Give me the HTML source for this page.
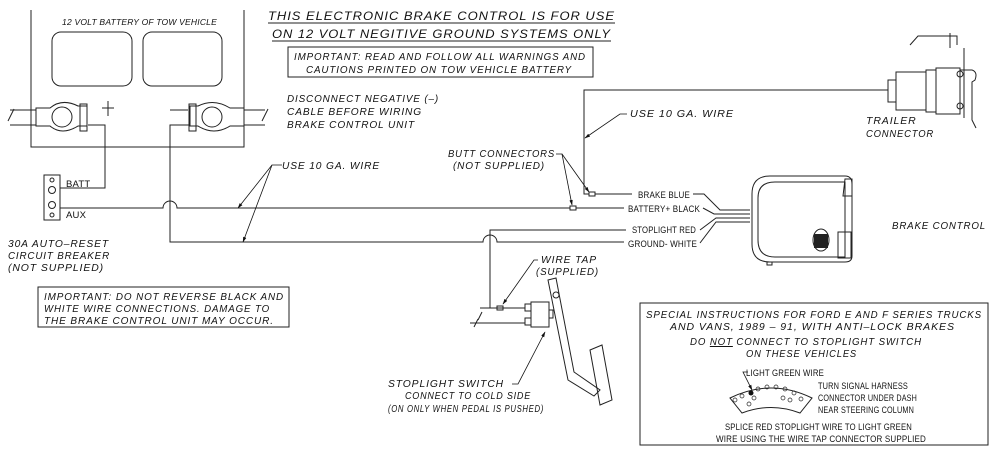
<!DOCTYPE html>
<html><head><meta charset="utf-8"><style>
html,body{margin:0;padding:0;background:#fff;}
svg{display:block;}
text{font-family:"Liberation Sans",sans-serif;font-size:10.5px;fill:#111;}
.i{font-style:italic;letter-spacing:0.9px;}
.s{font-size:9.5px;letter-spacing:0.2px;}
</style></head><body>
<svg width="1004" height="460" viewBox="0 0 1004 460" xmlns="http://www.w3.org/2000/svg">
<defs><marker id="a" viewBox="0 0 10 10" refX="9" refY="5" markerWidth="7" markerHeight="7" orient="auto"><path d="M0,2 L10,5 L0,8 z" fill="#111"/></marker></defs>
<g fill="none" stroke="#222" stroke-width="1">
<path d="M31,10 V147 H244 V10"/>
<rect x="52" y="32" width="80" height="54" rx="9"/>
<rect x="143" y="32" width="79" height="54" rx="9"/>
<path d="M10,110 H36 M10,125 H36 M244,110 H265 M244,125 H265"/>
<path d="M8,121 L14,109 M262,121 L268,109"/>
<path d="M36,108 H50 Q62,98 78,106 H87 V126 H78 Q62,136 50,126 H36 Z"/>
<circle cx="62" cy="117" r="10"/>
<rect x="80" y="104" width="7" height="27"/>
<path d="M102,108 H114 M108,101 V116"/>
<path d="M244,108 H230 Q214,98 198,106 H190 V126 H198 Q214,136 230,126 H244 Z"/>
<circle cx="212" cy="117" r="10"/>
<rect x="189" y="104" width="7" height="27"/>
<path d="M170,110 H188"/>
<path d="M88,125 H105 V188 H60"/>
<rect x="44" y="175" width="16" height="45"/>
<circle cx="52" cy="180" r="2"/><circle cx="52" cy="190" r="3.5"/><circle cx="52" cy="205" r="3.5"/><circle cx="52" cy="215" r="2"/>
<path d="M60,208 H163 A7,7 0 0 1 177,208 H570 M576,208 H624"/>
<rect x="570" y="206" width="6" height="4"/>
<path d="M189,125 H170 V242 H483 A7,7 0 0 1 497,242 H624"/>
<path d="M490,308 V230 H626"/>
<path d="M595,194 H632 M589,194 H584 V90 H888"/>
<rect x="589" y="192" width="6" height="4"/>
<path d="M693,194 H704 L720,210 H750 M703,208 L714,214 H750 M700,230 L716,218 H750 M700,243 L716,222 H750"/>
<path d="M770,176 H845 Q852,176 852,184 V256 Q852,262 845,262 H770 Q752,262 752,244 V194 Q752,176 770,176 Z"/>
<path d="M775,182 H845 V257 H775 Q758,257 758,240 V198 Q758,182 775,182 Z"/>
<path d="M845,179 H852 V196 H843 Z M838,232 H851 V258 H838 Z"/>
<ellipse cx="821" cy="240" rx="8" ry="11"/>
<rect x="767" y="262" width="5" height="3"/>
<rect x="888" y="80" width="8" height="22"/>
<rect x="896" y="72" width="30" height="38"/>
<rect x="926" y="70" width="10" height="42"/>
<rect x="936" y="68" width="24" height="46"/>
<path d="M960,70 H972 Q978,72 975,80 L972,82 V120 L976,128 M964,48 V118 M910,45 L918,36 H957 V45 M950,33 V48"/>
<circle cx="960" cy="74" r="3"/><circle cx="960" cy="106" r="3"/>
<path d="M478,320 L482,312 M480,308 H525 M470,323 H525 M474,327 L478,319"/>
<rect x="497" y="306" width="6" height="4"/>
<rect x="525" y="304" width="6" height="7"/><rect x="525" y="318" width="6" height="7"/>
<rect x="531" y="302" width="18" height="25"/>
<rect x="549" y="310" width="4" height="8"/>
<path d="M548,280 L556,278 L574,372 L600,390 L594,396 L568,380 Z"/>
<circle cx="556" cy="295" r="3"/>
<path d="M590,350 L602,345 L612,400 L600,405 Z"/>
<rect x="288" y="47" width="305" height="30"/>
<rect x="38" y="287" width="251" height="40"/>
<rect x="640" y="303" width="348" height="142"/>
<path d="M268,23 H615 M272,41 H611"/>
<path d="M730,398 Q771,378 812,398 L800,413 Q771,402 742,413 Z"/>
</g>
<g stroke="#111" stroke-width="0.8" fill="none">
<path d="M282,165 H272 L238,208" marker-end="url(#a)"/><path d="M272,165 L243,242" marker-end="url(#a)"/>
<path d="M556,154 H562 L572,205" marker-end="url(#a)"/><path d="M562,154 L589,192" marker-end="url(#a)"/>
<path d="M627,114 H620 L585,138" marker-end="url(#a)"/>
<path d="M538,260 H534 L503,304" marker-end="url(#a)"/>
<path d="M512,384 H518 L545,332" marker-end="url(#a)"/>
<path d="M748,372 H743 L752,390" marker-end="url(#a)"/>
</g>
<g fill="none" stroke="#222" stroke-width="0.7">
<circle cx="735" cy="400" r="2"/><circle cx="742" cy="396" r="2"/><circle cx="758" cy="389" r="2"/><circle cx="767" cy="387" r="2"/><circle cx="776" cy="387" r="2"/><circle cx="785" cy="389" r="2"/><circle cx="794" cy="393" r="2"/><circle cx="801" cy="399" r="2"/><circle cx="749" cy="404" r="2"/><circle cx="783" cy="398" r="2"/><circle cx="790" cy="400" r="2"/><circle cx="754" cy="398" r="2"/>
</g>
<circle cx="751" cy="393" r="2.5" fill="#111"/>
<rect x="814" y="234" width="14" height="14" fill="#222"/>
<text class="i s" x="62" y="25" style="font-size:8.5px" textLength="155" lengthAdjust="spacingAndGlyphs">12 VOLT BATTERY OF TOW VEHICLE</text>
<text class="i" x="268" y="20" style="font-size:12px" textLength="347" lengthAdjust="spacingAndGlyphs">THIS ELECTRONIC BRAKE CONTROL IS FOR USE</text>
<text class="i" x="272" y="38" style="font-size:12px" textLength="339" lengthAdjust="spacingAndGlyphs">ON 12 VOLT NEGITIVE GROUND SYSTEMS ONLY</text>
<text class="i" x="294" y="60" style="font-size:10px" textLength="292" lengthAdjust="spacingAndGlyphs">IMPORTANT: READ AND FOLLOW ALL WARNINGS AND</text>
<text class="i" x="306" y="73" style="font-size:10px" textLength="266" lengthAdjust="spacingAndGlyphs">CAUTIONS PRINTED ON TOW VEHICLE BATTERY</text>
<text class="i" x="287" y="102" textLength="152" lengthAdjust="spacingAndGlyphs">DISCONNECT NEGATIVE (–)</text>
<text class="i" x="287" y="115" textLength="135" lengthAdjust="spacingAndGlyphs">CABLE BEFORE WIRING</text>
<text class="i" x="287" y="128" textLength="128" lengthAdjust="spacingAndGlyphs">BRAKE CONTROL UNIT</text>
<text class="i" x="282" y="169" textLength="98" lengthAdjust="spacingAndGlyphs">USE 10 GA. WIRE</text>
<text class="i" x="448" y="157" textLength="107" lengthAdjust="spacingAndGlyphs">BUTT CONNECTORS</text>
<text class="i" x="453" y="169" textLength="92" lengthAdjust="spacingAndGlyphs">(NOT SUPPLIED)</text>
<text class="i" x="630" y="117" textLength="104" lengthAdjust="spacingAndGlyphs">USE 10 GA. WIRE</text>
<text class="i" x="866" y="124">TRAILER</text>
<text class="i" x="866" y="137" textLength="68" lengthAdjust="spacingAndGlyphs">CONNECTOR</text>
<text class="i" x="892" y="229" textLength="94" lengthAdjust="spacingAndGlyphs">BRAKE CONTROL</text>
<text class="s" x="66" y="187">BATT</text>
<text class="s" x="66" y="218">AUX</text>
<text class="s" x="638" y="198" textLength="52" lengthAdjust="spacingAndGlyphs">BRAKE BLUE</text>
<text class="s" x="628" y="212" textLength="72" lengthAdjust="spacingAndGlyphs">BATTERY+ BLACK</text>
<text class="s" x="632" y="233" textLength="64" lengthAdjust="spacingAndGlyphs">STOPLIGHT RED</text>
<text class="s" x="628" y="247" textLength="69" lengthAdjust="spacingAndGlyphs">GROUND- WHITE</text>
<text class="i" x="8" y="247" textLength="101" lengthAdjust="spacingAndGlyphs">30A AUTO–RESET</text>
<text class="i" x="8" y="259" textLength="102" lengthAdjust="spacingAndGlyphs">CIRCUIT BREAKER</text>
<text class="i" x="8" y="271" textLength="96" lengthAdjust="spacingAndGlyphs">(NOT SUPPLIED)</text>
<text class="i" x="44" y="300" style="font-size:10px" textLength="240" lengthAdjust="spacingAndGlyphs">IMPORTANT: DO NOT REVERSE BLACK AND</text>
<text class="i" x="44" y="312" style="font-size:10px" textLength="226" lengthAdjust="spacingAndGlyphs">WHITE WIRE CONNECTIONS. DAMAGE TO</text>
<text class="i" x="44" y="324" style="font-size:10px" textLength="230" lengthAdjust="spacingAndGlyphs">THE BRAKE CONTROL UNIT MAY OCCUR.</text>
<text class="i" x="541" y="263" textLength="56" lengthAdjust="spacingAndGlyphs">WIRE TAP</text>
<text class="i" x="536" y="275" textLength="63" lengthAdjust="spacingAndGlyphs">(SUPPLIED)</text>
<text class="i" x="388" y="387" textLength="116" lengthAdjust="spacingAndGlyphs">STOPLIGHT SWITCH</text>
<text class="i" x="405" y="399" textLength="126" lengthAdjust="spacingAndGlyphs">CONNECT TO COLD SIDE</text>
<text class="i" x="388" y="412" textLength="156" lengthAdjust="spacingAndGlyphs">(ON ONLY WHEN PEDAL IS PUSHED)</text>
<text class="i" x="646" y="318" style="font-size:10px" textLength="336" lengthAdjust="spacingAndGlyphs">SPECIAL INSTRUCTIONS FOR FORD E AND F SERIES TRUCKS</text>
<text class="i" x="670" y="330" style="font-size:10px" textLength="285" lengthAdjust="spacingAndGlyphs">AND VANS, 1989 – 91, WITH ANTI–LOCK BRAKES</text>
<text class="i" x="690" y="345" style="font-size:10px" textLength="232" lengthAdjust="spacingAndGlyphs">DO <tspan text-decoration="underline">NOT</tspan> CONNECT TO STOPLIGHT SWITCH</text>
<text class="i" x="746" y="357" style="font-size:10px" textLength="111" lengthAdjust="spacingAndGlyphs">ON THESE VEHICLES</text>
<text class="s" x="746" y="376" style="font-size:9px" textLength="78" lengthAdjust="spacingAndGlyphs">LIGHT GREEN WIRE</text>
<text class="s" x="818" y="389" style="font-size:9px" textLength="90" lengthAdjust="spacingAndGlyphs">TURN SIGNAL HARNESS</text>
<text class="s" x="818" y="401" style="font-size:9px" textLength="99" lengthAdjust="spacingAndGlyphs">CONNECTOR UNDER DASH</text>
<text class="s" x="818" y="413" style="font-size:9px" textLength="96" lengthAdjust="spacingAndGlyphs">NEAR STEERING COLUMN</text>
<text class="s" x="725" y="430" style="font-size:9px" textLength="187" lengthAdjust="spacingAndGlyphs">SPLICE RED STOPLIGHT WIRE TO LIGHT GREEN</text>
<text class="s" x="716" y="442" style="font-size:9px" textLength="210" lengthAdjust="spacingAndGlyphs">WIRE USING THE WIRE TAP CONNECTOR SUPPLIED</text>
</svg>
</body></html>
